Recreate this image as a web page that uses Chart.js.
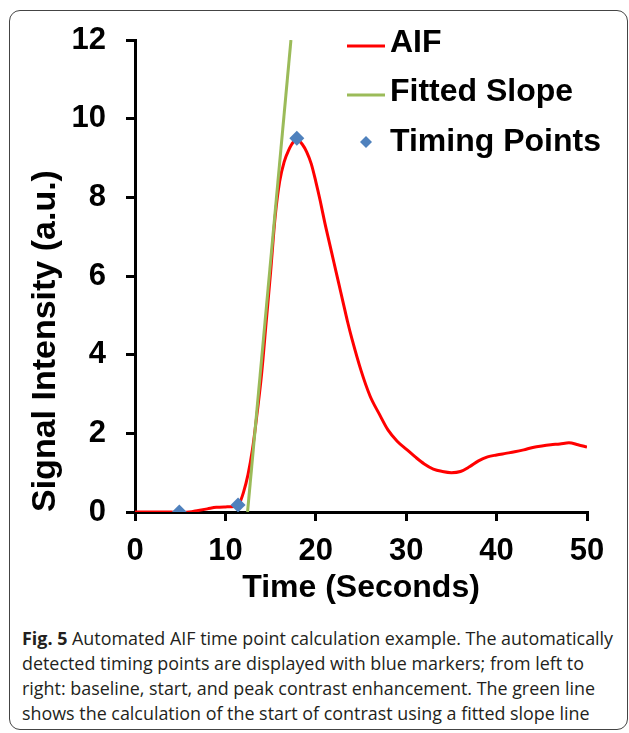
<!DOCTYPE html>
<html>
<head>
<meta charset="utf-8">
<script src="https://cdn.jsdelivr.net/npm/chart.js@4"></script>
<style>
  html, body { margin: 0; padding: 0; background: #fff; }
  body { width: 629px; height: 733px; position: relative; overflow: hidden; }
  #frame {
    position: absolute; left: 9px; top: 10px; width: 617px; height: 718px;
    border: 1.5px solid #444; border-radius: 11px;
  }
  #chart { position: absolute; left: 0; top: 0; }
  #caption {
    position: absolute; left: 22px; top: 626px;
    font-family: "Open Sans", "Noto Sans", sans-serif; font-size: 17.9px;
    line-height: 25px; color: #231f20; white-space: nowrap;
  }
  #caption b { font-weight: 700; }
</style>
</head>
<body>
<div id="frame"></div>
<canvas id="chart" width="629" height="615"></canvas>
<div id="caption">
  <div><b>Fig. 5</b> Automated AIF time point calculation example. The automatically</div>
  <div>detected timing points are displayed with blue markers; from left to</div>
  <div>right: baseline, start, and peak contrast enhancement. The green line</div>
  <div>shows the calculation of the start of contrast using a fitted slope line</div>
</div>
<script>
// AIF curve
const aifTime = [0, 2, 4, 5, 6, 7, 8, 9, 10, 11, 11.5, 12, 12.5, 13, 13.5, 14, 14.5, 15, 15.5, 16, 16.5, 17, 17.5, 18,
  18.5, 19, 19.5, 20, 20.5, 21, 21.5, 22, 22.5, 23, 23.5, 24, 25, 26, 27, 28, 29, 30, 31, 32, 33, 34, 35, 36, 37, 38, 39, 40,
  41, 42, 43, 44, 45, 46, 47, 48, 49, 50];
const aifValue = [0, 0, 0, -0.02, 0, 0.04, 0.08, 0.12, 0.13, 0.14, 0.2, 0.5, 0.95, 1.6, 2.5, 3.5, 4.8, 6.1, 7.5, 8.4, 8.9, 9.2, 9.4, 9.45,
  9.35, 9.15, 8.85, 8.4, 7.9, 7.35, 6.85, 6.35, 5.85, 5.35, 4.85, 4.4, 3.6, 2.95, 2.5, 2.08, 1.8, 1.6, 1.4, 1.22, 1.09, 1.03, 1.0, 1.03, 1.15, 1.3, 1.4, 1.45,
  1.49, 1.53, 1.58, 1.64, 1.68, 1.71, 1.73, 1.76, 1.71, 1.65];

const slopeTime = [12.45, 17.25];
const slopeValue = [0, 12];

const timingTime = [4.9, 11.4, 17.9];
const timingValue = [0, 0.18, 9.5];

const seriesLabels = ["AIF", "Fitted Slope", "Timing Points"];
const xTicks = [0, 10, 20, 30, 40, 50];
const yTicks = [0, 2, 4, 6, 8, 10, 12];

const RED = "#ff0000";
const GREEN = "#9bbb59";
const BLUE = "#4f81bd";

function toPoints(xs, ys) {
  return xs.map((x, i) => ({ x: x, y: ys[i] }));
}

// legend drawn inside the plot, top right
const insideLegend = {
  id: "insideLegend",
  afterDraw(chart) {
    const ctx = chart.ctx;
    const rows = [
      { y: 43, mark: 46, type: "line", color: RED },
      { y: 92, mark: 95, type: "line", color: GREEN },
      { y: 142, mark: 142, type: "diamond", color: BLUE },
    ];
    ctx.save();
    ctx.font = 'bold 32px "Liberation Sans", Arial, sans-serif';
    ctx.textBaseline = "middle";
    ctx.textAlign = "left";
    rows.forEach((r, i) => {
      if (r.type === "line") {
        ctx.strokeStyle = r.color;
        ctx.lineWidth = 3;
        ctx.beginPath();
        ctx.moveTo(347, r.mark);
        ctx.lineTo(385, r.mark);
        ctx.stroke();
      } else {
        ctx.fillStyle = r.color;
        ctx.beginPath();
        ctx.moveTo(366, r.mark - 6);
        ctx.lineTo(372, r.mark);
        ctx.lineTo(366, r.mark + 6);
        ctx.lineTo(360, r.mark);
        ctx.closePath();
        ctx.fill();
      }
      ctx.fillStyle = "#000";
      ctx.fillText(seriesLabels[i], 390, r.y);
    });
    ctx.restore();
  },
};

const axisFont = { family: '"Liberation Sans", Arial, sans-serif', weight: "bold" };

new Chart(document.getElementById("chart"), {
  type: "scatter",
  data: {
    datasets: [
      {
        label: seriesLabels[2],
        data: toPoints(timingTime, timingValue),
        pointStyle: "rectRot",
        pointRadius: 7.5,
        backgroundColor: BLUE,
        borderColor: BLUE,
        borderWidth: 0,
        showLine: false,
        order: 0,
      },
      {
        label: seriesLabels[1],
        data: toPoints(slopeTime, slopeValue),
        showLine: true,
        borderColor: GREEN,
        borderWidth: 3,
        pointRadius: 0,
        order: 1,
      },
      {
        label: seriesLabels[0],
        data: toPoints(aifTime, aifValue),
        showLine: true,
        borderColor: RED,
        borderWidth: 3,
        pointRadius: 0,
        cubicInterpolationMode: "monotone",
        order: 2,
      },
    ],
  },
  options: {
    responsive: false,
    animation: false,
    layout: { padding: { left: 25, top: 40, right: 42, bottom: 8 } },
    plugins: { legend: { display: false }, tooltip: { enabled: false } },
    scales: {
      x: {
        type: "linear",
        min: 0,
        max: 50,
        afterBuildTicks: (s) => { s.ticks = xTicks.map((v) => ({ value: v })); },
        afterFit: (s) => { s.height = 95; },
        border: { display: true, color: "#000", width: 3 },
        grid: { drawOnChartArea: false, drawTicks: true, tickLength: 9, color: "#000", lineWidth: 3 },
        ticks: { color: "#000", padding: 12, font: { ...axisFont, size: 31 } },
        title: {
          display: true,
          text: "Time (Seconds)",
          color: "#000",
          padding: 0,
          font: { ...axisFont, size: 32 },
        },
      },
      y: {
        type: "linear",
        min: 0,
        max: 12,
        afterBuildTicks: (s) => { s.ticks = yTicks.map((v) => ({ value: v })); },
        afterFit: (s) => { s.width = 110; },
        border: { display: true, color: "#000", width: 3 },
        grid: { drawOnChartArea: false, drawTicks: true, tickLength: 9, color: "#000", lineWidth: 3 },
        ticks: { color: "#000", padding: 20, font: { ...axisFont, size: 31 } },
        title: {
          display: true,
          text: "Signal Intensity (a.u.)",
          color: "#000",
          align: "start",
          padding: 0,
          font: { ...axisFont, size: 34 },
        },
      },
    },
  },
  plugins: [insideLegend],
});
</script>
</body>
</html>
